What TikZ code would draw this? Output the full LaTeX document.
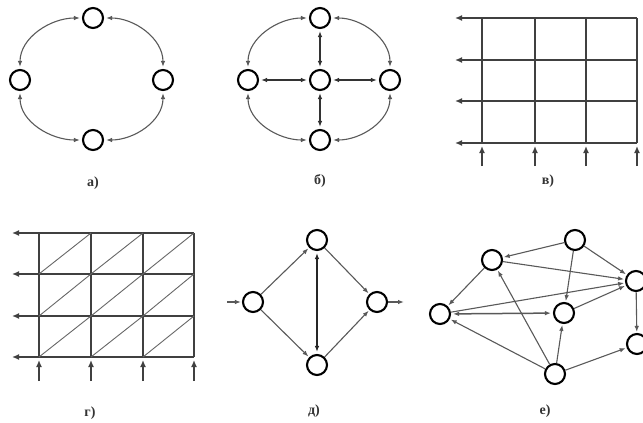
\documentclass[tikz,border=0pt]{standalone}
\usepackage{fontspec}
\setmainfont{Liberation Serif}
\usetikzlibrary{arrows.meta}
\begin{document}
\begin{tikzpicture}[x=1pt,y=-1pt,
  vert/.style={circle,draw=black,line width=2.1pt,minimum size=20pt,inner sep=0pt,fill=white},
  conn/.style={draw=black!65,line width=1.1pt},
  oneway/.style={conn,-{Latex[length=6pt,width=4.5pt]},shorten >=1pt},
  twoway/.style={conn,{Latex[length=6pt,width=4.5pt]}-{Latex[length=6pt,width=4.5pt]},shorten >=2pt,shorten <=2pt},
  gridline/.style={draw=black!75,line width=1.4pt},
  diag/.style={draw=black!60,line width=0.9pt},
  gridarrow/.style={draw=black!75,line width=1.4pt,-{Latex[length=7pt,width=6pt]}},
  caption/.style={font=\fontsize{14}{16}\selectfont\bfseries,text=black!80}
]
\useasboundingbox (0,0) rectangle (643,423);

% ---- a)
\node[vert] (at) at (93,18) {};
\node[vert] (al) at (20,80) {};
\node[vert] (ar) at (163,80) {};
\node[vert] (ab) at (93,140) {};
\draw[twoway] (at) to[out=180,in=90] (al);
\draw[twoway] (at) to[out=0,in=90] (ar);
\draw[twoway] (ab) to[out=180,in=-90] (al);
\draw[twoway] (ab) to[out=0,in=-90] (ar);
\node[caption] (la) at (93,183) {а)};

% ---- b)
\node[vert] (bt) at (320,18) {};
\node[vert] (bl) at (248,80) {};
\node[vert] (bc) at (320,80) {};
\node[vert] (br) at (390,80) {};
\node[vert] (bb) at (320,140) {};
\draw[twoway] (bt) to[out=180,in=90] (bl);
\draw[twoway] (bt) to[out=0,in=90] (br);
\draw[twoway] (bb) to[out=180,in=-90] (bl);
\draw[twoway] (bb) to[out=0,in=-90] (br);
\draw[twoway,draw=black!80,line width=1.5pt] (bc) -- (bt);
\draw[twoway,draw=black!80,line width=1.5pt] (bc) -- (bb);
\draw[twoway,draw=black!80,line width=1.5pt] (bc) -- (bl);
\draw[twoway,draw=black!80,line width=1.5pt] (bc) -- (br);
\node[caption] (lb) at (320,181) {б)};

% ---- v) grid
\foreach \x in {482,535,586,637} {
  \draw[gridline] (\x,18) -- (\x,143);
  \draw[gridarrow] (\x,166) -- (\x,146);
}
\foreach \y in {18,60,101,143} {
  \draw[gridarrow] (637,\y) -- (455,\y);
}
\node[caption] (lv) at (548,181) {в)};

% ---- g) grid with diagonals
\foreach \x in {39,91,143,194} {
  \draw[gridline] (\x,233) -- (\x,357);
  \draw[gridarrow] (\x,381) -- (\x,360);
}
\foreach \y in {233,274,316,357} {
  \draw[gridarrow] (194,\y) -- (12,\y);
}
\foreach \xa/\xb in {39/91,91/143,143/194} {
  \foreach \ya/\yb in {233/274,274/316,316/357} {
    \draw[diag] (\xa,\yb) -- (\xb,\ya);
  }
}
\node[caption] (lg) at (90,413) {г)};

% ---- d)
\node[vert] (dl) at (253,302) {};
\node[vert] (dt) at (317,240) {};
\node[vert] (dr) at (377,302) {};
\node[vert] (db) at (317,365) {};
\coordinate (din) at (227,302);
\coordinate (dout) at (405,302);
\draw[oneway] (din) -- (dl);
\draw[oneway] (dr) -- (dout);
\draw[oneway] (dl) -- (dt);
\draw[oneway] (dl) -- (db);
\draw[oneway] (dt) -- (dr);
\draw[oneway] (db) -- (dr);
\draw[twoway,draw=black!85,line width=1.7pt] (dt) -- (db);
\node[caption] (ld) at (314,411) {д)};

% ---- e)
\node[vert] (eA) at (440,314) {};
\node[vert] (eB) at (492,260) {};
\node[vert] (eC) at (575,240) {};
\node[vert] (eD) at (636,281) {};
\node[vert] (eE) at (564,313) {};
\node[vert] (eF) at (637,344) {};
\node[vert] (eG) at (555,374) {};
\draw[oneway] (eC) -- (eB);
\draw[oneway] (eC) -- (eD);
\draw[oneway] (eC) -- (eE);
\draw[oneway] (eB) -- (eD);
\draw[oneway] (eB) -- (eA);
\draw[oneway] (eA) -- (eD);
\draw[oneway] (eE) -- (eD);
\draw[twoway,line width=1.5pt] (eA) -- (eE);
\draw[oneway] (eD) -- (eF);
\draw[oneway] (eG) -- (eA);
\draw[oneway] (eG) -- (eB);
\draw[oneway] (eG) -- (eE);
\draw[oneway] (eG) -- (eF);
\node[caption] (le) at (545,411) {е)};
\end{tikzpicture}
\end{document}
